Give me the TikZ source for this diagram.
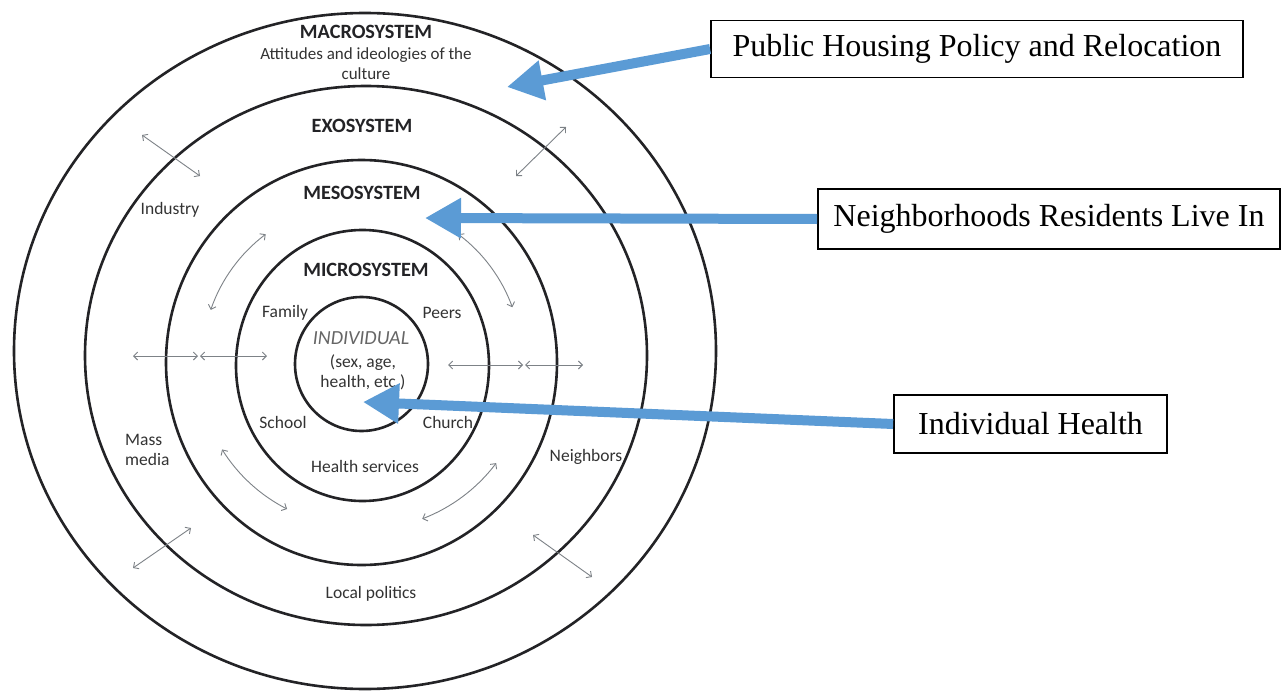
\documentclass[tikz,border=0pt]{standalone}
\usepackage{fontspec}
\setmainfont{Liberation Serif}
\newfontfamily\labelfont{Carlito}
\usetikzlibrary{arrows.meta}
\definecolor{ringgray}{RGB}{35,35,38}
\definecolor{linkgray}{RGB}{125,130,135}
\definecolor{callblue}{RGB}{91,155,213}
\tikzstyle{ring}=[draw=ringgray,line width=2.6pt]
\tikzstyle{system}=[font=\labelfont\bfseries\fontsize{20.3}{22}\selectfont,text=ringgray,inner sep=0pt]
\tikzstyle{item}=[font=\labelfont\fontsize{17.5}{20}\selectfont,text=black!80,inner sep=0pt]
\tikzstyle{callout}=[draw,line width=1.8pt,fill=white,font=\fontsize{32}{38}\selectfont,inner sep=0pt,minimum height=57pt]
\tikzstyle{link}=[linkgray,line width=0.9pt,{Straight Barb[length=4pt,width=8pt]}-{Straight Barb[length=4pt,width=8pt]}]
\tikzstyle{pointer}=[callblue,line width=10pt,-{Triangle[length=36pt,width=38pt]}]

\begin{document}
\begin{tikzpicture}[x=1pt,y=-1pt]
\fill[white] (0,0) rectangle (1282,693);
\useasboundingbox (0,0) rectangle (1282,693);
% the five rings
\draw[ring] (365,351) ellipse [x radius=351, y radius=338];
\draw[ring] (366,355.5) ellipse [x radius=281, y radius=269.5];
\draw[ring] (361.5,362.5) ellipse [x radius=195.5, y radius=202.5];
\draw[ring] (362.5,365.5) ellipse [x radius=126.5, y radius=135.5];
\draw[ring] (361.5,364) ellipse [x radius=66.5, y radius=67];
% system names
\node[system] at (366, 32) (macro) {MACROSYSTEM};
\node[item, align=center, font=\labelfont\fontsize{17}{20}\selectfont] at (366, 64) (culture) {Attitudes and ideologies of the\\culture};
\node[system] at (362, 126) (exo) {EXOSYSTEM};
\node[system] at (362, 193) (meso) {MESOSYSTEM};
\node[system] at (366, 270) (micro) {MICROSYSTEM};
\node[item, font=\labelfont\itshape\fontsize{20}{20}\selectfont, text=black!60] at (361, 338) (indiv) {INDIVIDUAL};
\node[item, align=center, font=\labelfont\fontsize{17.5}{20}\selectfont] at (363, 372) (traits) {(sex, age,\\health, etc.)};
% settings
\node[item] at (285, 313) (family) {Family};
\node[item] at (442, 313) (peers) {Peers};
\node[item] at (283, 422) (school) {School};
\node[item] at (448, 422) (church) {Church};
\node[item] at (365, 466) (health) {Health services};
\node[item] at (170, 210) (industry) {Industry};
\node[item, align=left, anchor=west] at (125, 450) (media) {Mass\\media};
\node[item] at (586, 457) (neighbors) {Neighbors};
\node[item] at (371, 594) (politics) {Local politics};
% small two-way arrows
\draw[link] (142, 135) -- (200, 176);
\draw[link] (566, 127) -- (516, 176);
\draw[link] (133, 356) -- (198, 356);
\draw[link] (200, 356) -- (267, 356);
\draw[link] (448, 365) -- (523, 365);
\draw[link] (525, 365) -- (583, 365);
\draw[link] (191, 528) -- (133, 568);
\draw[link] (533, 535) -- (592, 577);
\draw[link, shift={(362,362)}] (-127:160) arc[start angle=-127, end angle=-161, radius=160];
\draw[link, shift={(362,362)}] (-53:160) arc[start angle=-53, end angle=-20, radius=160];
\draw[link, shift={(362,362)}] (148:165) arc[start angle=148, end angle=117, radius=165];
\draw[link, shift={(362,362)}] (37:168) arc[start angle=37, end angle=69, radius=168];
% callouts
\node[callout, minimum width=532pt] at (977, 49) (housing) {Public Housing Policy and Relocation};
\node[callout, minimum width=462pt, minimum height=60pt] at (1049, 219) (hoods) {Neighborhoods Residents Live In};
\node[callout, minimum width=273pt, minimum height=58pt] at (1030.5, 424) (ihealth) {Individual Health};
\coordinate (housingtip) at (507, 87);
\coordinate (hoodstip) at (425, 218);
\coordinate (ihealthtip) at (363, 402);
\draw[pointer] (housing.west) -- (housingtip);
\draw[pointer] (hoods.west) -- (hoodstip);
\draw[pointer] (ihealth.west) -- (ihealthtip);
\end{tikzpicture}
\end{document}
